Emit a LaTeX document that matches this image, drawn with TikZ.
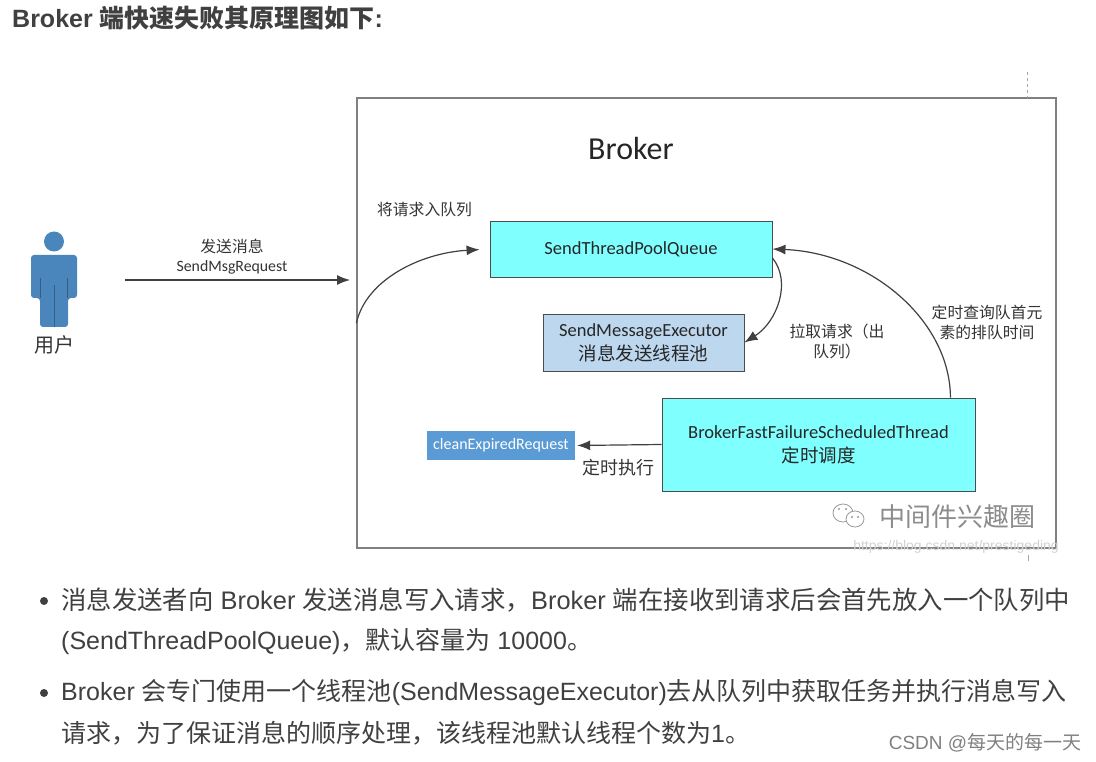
\documentclass[tikz,border=0pt]{standalone}
\usepackage{fontspec}
\usepackage{xcolor}
\usetikzlibrary{arrows.meta}
\setmainfont{Liberation Sans}
\newfontfamily\cjk{Noto Sans CJK SC}
\newfontfamily\carlito{Carlito}
\newcommand{\zh}[1]{{\cjk #1}}
\definecolor{queuecyan}{HTML}{80FFFF}
\definecolor{execblue}{HTML}{BDD7EE}
\definecolor{cleanblue}{HTML}{5B9BD5}
\definecolor{userblue}{HTML}{4A86BC}
\definecolor{bodytext}{HTML}{404040}
\tikzset{
  boxnode/.style = {align=center, inner sep=0pt, text=black!85, draw=black!70,
    line width=0.9pt, font=\carlito\fontsize{18.5}{24}\selectfont},
  cyanbox/.style = {boxnode, fill=queuecyan},% queue and scheduler
  execbox/.style = {boxnode, fill=execblue},
  cleanbox/.style = {align=center, inner sep=0pt, text=white, fill=cleanblue,
    font=\carlito\fontsize{16}{18}\selectfont},
  note/.style = {align=center, inner sep=0pt, text=black!80,
    font=\cjk\fontsize{15.8}{20}\selectfont},
  para/.style = {anchor=west, inner sep=0pt, text=bodytext,
    font=\fontsize{25}{28}\selectfont},
  dotnode/.style = {circle, fill=bodytext, inner sep=0pt, minimum size=8pt},
  link/.style = {->, line width=1.2pt, draw=black!75}
}
\begin{document}
\begin{tikzpicture}[x=1pt,y=-1pt,>={Latex[length=13pt,width=10pt]}]
\useasboundingbox (0,0) rectangle (1096,762);
\node [para, font=\fontsize{25}{28}\selectfont\bfseries] (title) at (12,18)
  {Broker \zh{端快速失败其原理图如下}:};
% the broker frame
\node [draw=black!50, line width=1.2pt, minimum width=699pt, minimum height=450pt,
  inner sep=0pt] (broker) at (706.5,323) {};
\node [inner sep=0pt, text=black!85, font=\carlito\fontsize{32}{34}\selectfont] (brokername) at (631,149) {Broker};
\coordinate (tickatop) at (1027,72);
\coordinate (tickabot) at (1027,98);
\draw [dashed, black!35, line width=0.6pt] (tickatop) -- (tickabot);
\coordinate (tickbtop) at (1028,555);
\coordinate (tickbbot) at (1028,561);
\draw [black!35, line width=0.6pt] (tickbtop) -- (tickbbot);
% the user figure
\fill [userblue, rounded corners=3pt] (31,298) -- (31,255) -- (77,255) -- (77,298)
  -- (68,298) -- (68,327) -- (40,327) -- (40,298) -- cycle;
\fill [userblue] (54,241.5) circle (10);
\draw [black!30!userblue, line width=0.5pt] (40.5,278) -- (40.5,298) (67.5,278) -- (67.5,298)
  (54,285) -- (54,327);
\node [note, font=\cjk\fontsize{20}{24}\selectfont] (user) at (54.5,344.5) {用户};
\coordinate (sendstart) at (125,280);
\coordinate (sendend) at (350,280);
\draw [link] (sendstart) -- (sendend);
\node [note] (sendlabel) at (232,256.5) {\zh{发送消息}\\[-1pt]{\carlito SendMsgRequest}};
% boxes
\node [cyanbox, minimum width=282pt, minimum height=56pt] (queue) at (631,249) {SendThreadPoolQueue};
\node [execbox, minimum width=201pt, minimum height=57pt] (executor) at (643.5,342.5)
  {SendMessageExecutor\\\zh{消息发送线程池}};
\node [cyanbox, minimum width=313pt, minimum height=93pt] (scheduler) at (818.5,444.5)
  {BrokerFastFailureScheduledThread\\\zh{定时调度}};
\node [cleanbox, minimum width=148pt, minimum height=29pt] (clean) at (501,445.5) {cleanExpiredRequest};
% arrows
\draw [link, shorten >=10pt] (broker.west) .. controls (366,280) and (420,253) .. (queue.west);
\draw [link] ([yshift=-9pt]queue.east) .. controls (792,282) and (777,322) .. (executor.east);
\draw [link] ([xshift=-25pt]scheduler.north east) .. controls (950,320) and (870,253) .. (queue.east);
\draw [link, shorten >=2pt] (scheduler.west) -- (clean.east);
% labels
\node [note] (enqueue) at (424.5,210) {将请求入队列};
\node [note] (dequeue) at (837,341) {拉取请求（出\\队列）};
\node [note] (poll) at (987,322) {定时查询队首元\\素的排队时间};
\node [note, font=\cjk\fontsize{18}{20}\selectfont] (timer) at (618.5,468) {定时执行};
% watermark
\draw [black!40, line width=0.8pt] (843,513) ellipse (10 and 9);
\draw [black!40, fill=white, line width=0.8pt] (855,519) ellipse (9 and 8);
\fill [black!40] (839,509) circle (1.2) (846,509) circle (1.2) (852,517) circle (1.2) (858,517) circle (1.2);
\node [inner sep=0pt, text=black!45, font=\cjk\fontsize{26}{30}\selectfont] (mark) at (957,517) {中间件兴趣圈};
\node [inner sep=0pt, text=black!18, font=\fontsize{14}{16}\selectfont] (url) at (956,547)
  {https://blog.csdn.net/prestigeding};
% bullet list
\node [dotnode] (dota) at (44,601) {};
\node [para, font=\fontsize{25.4}{28}\selectfont] (linea) at (61,600.5) {\zh{消息发送者向} Broker \zh{发送消息写入请求，}Broker \zh{端在接收到请求后会首先放入一个队列中}};
\node [para] (lineb) at (61,641.5) {(SendThreadPoolQueue)\zh{，默认容量为} 10000\zh{。}};
\node [dotnode] (dotb) at (44,693) {};
\node [para] (linec) at (61,692.5) {Broker \zh{会专门使用一个线程池}(SendMessageExecutor)\zh{去从队列中获取任务并执行消息写入}};
\node [para] (lined) at (61,733.5) {\zh{请求，为了保证消息的顺序处理，该线程池默认线程个数为}1\zh{。}};
\node [inner sep=0pt, text=black!50, font=\fontsize{19}{22}\selectfont] (csdn) at (985,743) {CSDN @\zh{每天的每一天}};
\end{tikzpicture}
\end{document}
